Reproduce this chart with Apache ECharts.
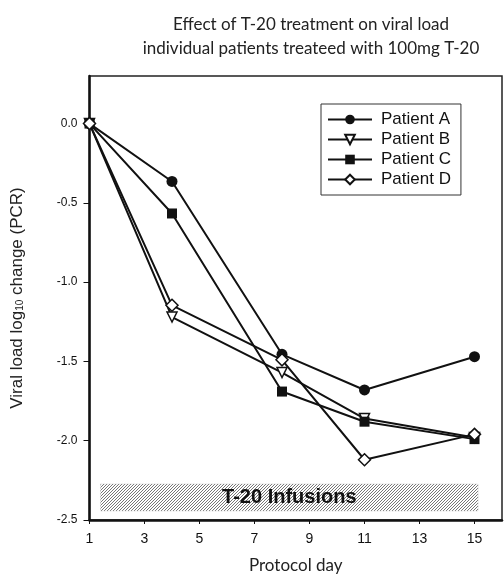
<!DOCTYPE html>
<html>
<head>
<meta charset="utf-8">
<script src="https://cdn.jsdelivr.net/npm/echarts@6/dist/echarts.min.js"></script>
<style>html,body{margin:0;padding:0;background:#fff;}#c{width:504px;height:581px;}</style>
</head>
<body>
<div id="c"></div>
<script>
const days = [1, 4, 8, 11, 15];
const patientA = [0, -0.365, -1.455, -1.68, -1.47];
const patientB = [0, -1.22, -1.57, -1.86, -1.98];
const patientC = [0, -0.567, -1.69, -1.88, -1.99];
const patientD = [0, -1.146, -1.49, -2.12, -1.96];
const xTicks = [1, 3, 5, 7, 9, 11, 13, 15];
const yTicks = [-2.5, -2.0, -1.5, -1.0, -0.5, 0.0];
const bandX = [1.4, 15.13];
const bandY = [-2.273, -2.443];
const bandLabel = 'T-20 Infusions';

function hatch() {
  const c = document.createElement('canvas');
  c.width = 3; c.height = 3;
  const g = c.getContext('2d');
  g.fillStyle = '#ffffff'; g.fillRect(0, 0, 3, 3);
  g.strokeStyle = '#777'; g.lineWidth = 1;
  g.beginPath();
  g.moveTo(0, 3); g.lineTo(3, 0);
  g.moveTo(-1, 1); g.lineTo(1, -1);
  g.moveTo(2, 4); g.lineTo(4, 2);
  g.stroke();
  return c;
}

const chart = echarts.init(document.getElementById('c'));
const mk = (name, data, symbol, size, filled, rotate) => ({
  name, type: 'line',
  data: days.map((d, i) => [d, data[i]]),
  symbol, symbolSize: size, symbolRotate: rotate || 0,
  showAllSymbol: true,
  lineStyle: { color: '#111', width: 2 },
  itemStyle: { color: filled ? '#111' : '#fff', borderColor: '#111', borderWidth: filled ? 0 : 1.5 },
  emphasis: { disabled: true },
  animation: false
});
const sA = mk('Patient A', patientA, 'circle', 11, true);
const sB = mk('Patient B', patientB, 'triangle', 10, false, 180);
const sC = mk('Patient C', patientC, 'rect', 10, true);
const sD = mk('Patient D', patientD, 'diamond', 12, false);
sA.markArea = {
  silent: true,
  itemStyle: { color: { image: hatch(), repeat: 'repeat' }, borderColor: '#bbb', borderWidth: 0.5, borderType: 'dashed' },
  label: { show: true, position: 'inside', formatter: bandLabel, color: '#111', fontFamily: 'Liberation Sans', fontWeight: 'bold', fontSize: 20 },
  data: [[{ coord: [bandX[0], bandY[0]] }, { coord: [bandX[1], bandY[1]] }]]
};

chart.setOption({
  animation: false,
  title: {
    text: 'Effect of T-20 treatment on viral load\nindividual patients treateed with 100mg T-20',
    left: 306, top: 8, textAlign: 'center',
    textStyle: { fontFamily: 'Lato', fontWeight: 'normal', fontSize: 17, lineHeight: 24, color: '#222' }
  },
  legend: {
    orient: 'vertical', left: 321, top: 104, width: 148,
    padding: [7, 10, 7, 6],
    backgroundColor: '#fff', borderColor: '#333', borderWidth: 1,
    itemWidth: 44, itemHeight: 12, itemGap: 3,
    textStyle: { fontFamily: 'Liberation Sans', fontSize: 17, lineHeight: 16, color: '#111', padding: [0, 0, 0, 4] },
    data: ['Patient A', 'Patient B', 'Patient C', 'Patient D']
  },
  grid: { left: 89.5, right: 2, top: 76, bottom: 61, show: true, borderColor: '#222', borderWidth: 1.5, containLabel: false },
  xAxis: {
    type: 'value', min: 1, max: 16,
    name: 'Protocol day', nameLocation: 'middle', nameGap: 37,
    nameTextStyle: { fontFamily: 'Lato', fontSize: 17, color: '#222' },
    axisLine: { show: true, onZero: false, lineStyle: { color: '#111', width: 2.5 } },
    axisTick: { show: true, length: 4, customValues: xTicks, lineStyle: { color: '#111' } },
    axisLabel: { customValues: xTicks, margin: 12, fontFamily: 'Liberation Sans', fontSize: 14, color: '#111' },
    splitLine: { show: false }
  },
  yAxis: {
    type: 'value', min: -2.5, max: 0.3,
    name: 'Viral load log{s|10} change (PCR)', nameLocation: 'middle', nameGap: 64,
    nameTextStyle: { fontFamily: 'Liberation Sans', fontSize: 17, color: '#222', rich: { s: { fontFamily: 'Liberation Sans', fontSize: 10, color: '#222', verticalAlign: 'bottom', padding: [7, 0, 0, 0] } } },
    axisLine: { show: true, onZero: false, lineStyle: { color: '#111', width: 2.5 } },
    axisTick: { show: true, length: 6, customValues: yTicks, lineStyle: { color: '#111' } },
    axisLabel: { customValues: yTicks, margin: 12, fontFamily: 'Liberation Sans', fontSize: 12, color: '#111', formatter: v => v.toFixed(1) },
    splitLine: { show: false }
  },
  series: [sA, sB, sC, sD]
});
</script>
</body>
</html>
